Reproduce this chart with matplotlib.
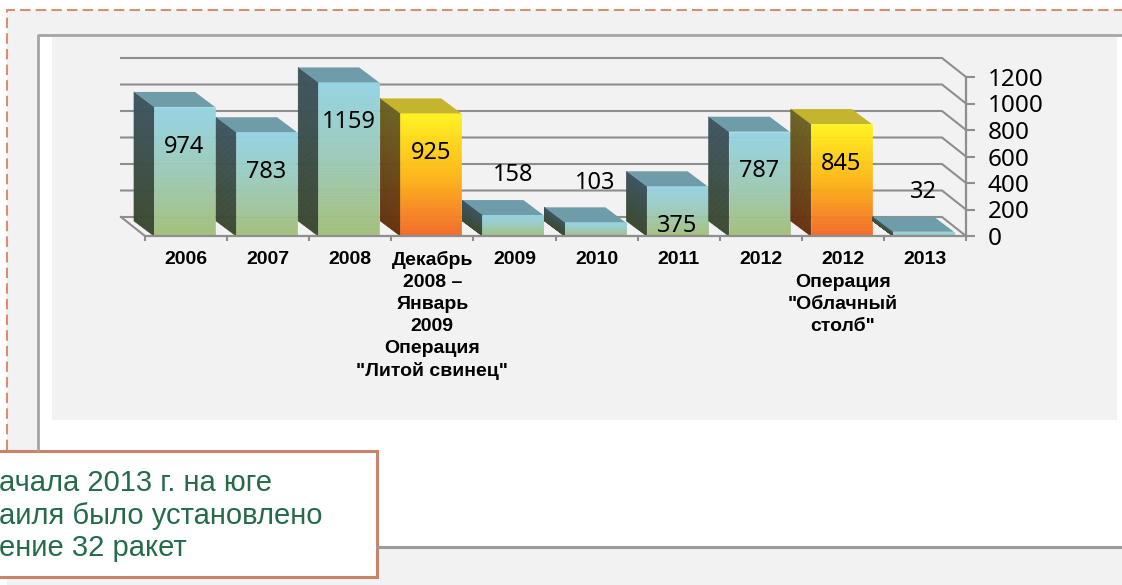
import matplotlib
matplotlib.use("Agg")
import matplotlib.pyplot as plt
from matplotlib.patches import Rectangle, Polygon
from matplotlib.collections import PolyCollection
from matplotlib.colors import to_rgb
import numpy as np

# data
categories = ["2006", "2007", "2008",
              "Декабрь\n2008 –\nЯнварь\n2009\nОперация\n\"Литой свинец\"",
              "2009", "2010", "2011", "2012",
              "2012\nОперация\n\"Облачный\nстолб\"", "2013"]
rockets = [974, 783, 1159, 925, 158, 103, 375, 787, 845, 32]
operation = [False, False, False, True, False, False, False, False, True, False]
y_ticks = [0, 200, 400, 600, 800, 1000, 1200]
note_lines = ["ачала 2013 г. на юге", "аиля было установлено", "ение 32 ракет"]

W, H = 1122, 585
fig = plt.figure(figsize=(W / 100, H / 100), dpi=100)
fig.patch.set_facecolor("white")

# slide background, in pixels
bg = fig.add_axes([0, 0, 1, 1])
bg.set_xlim(0, W)
bg.set_ylim(H, 0)
bg.axis("off")
bg.add_patch(Rectangle((7, 10), W, H, fc="#F2F2F2", ec="none"))
bg.add_patch(Rectangle((39, 36), W, 511, fc="white", ec="none"))
bg.add_patch(Rectangle((52, 37), 1065, 383, fc="#F2F2F2", ec="none"))
bg.plot([7, 7, W], [450, 10, 10], color="#D4906F", lw=1.5, ls=(0, (5, 2.5)))
bg.plot([38, 38, W], [450, 35, 35], color="#A5A5A5", lw=2)
bg.plot([377, W], [547, 547], color="#9B9B9B", lw=2.2)
bg.add_patch(Rectangle((-5, 451), 382, 126, fc="white", ec="#C8836A", lw=2.2))
for k, line in enumerate(note_lines):
    bg.text(-1, 491 + 32.5 * k, line, fontsize=21, family="Liberation Sans",
            color="#256B4A", va="baseline", ha="left")

# chart: axes is the front plane of the 3D box
left_px, right_px, base_px = 145, 966, 236
unit_px = 0.1325
top_px = base_px - 1200 * unit_px
ax = fig.add_axes([left_px / W, (H - base_px) / H,
                   (right_px - left_px) / W, (base_px - top_px) / H])
ax.set_xlim(0, len(categories))
ax.set_ylim(0, 1200)
ax.patch.set_visible(False)

cat_px = (right_px - left_px) / len(categories)
wall_dx, wall_dy = -24 / cat_px, 19 / unit_px
bar_dx, bar_dy = -20 / cat_px, 15 / unit_px
bar_off, bar_w = 9 / cat_px, 61 / cat_px
grid_c = "#8E8E8E"

# back wall grid and floor
for v in y_ticks:
    ax.plot([wall_dx, len(categories) + wall_dx, len(categories)],
            [v + wall_dy, v + wall_dy, v], color=grid_c, lw=1.5,
            clip_on=False, zorder=1)
ax.plot([wall_dx, 0], [wall_dy, 0], color=grid_c, lw=1.5, clip_on=False, zorder=1)

schemes = {
    False: dict(front=["#95D4E4", "#9DCAB8", "#A3C078"],
                side=["#3D5560", "#3C4A30"], top="#6F9CA9"),
    True: dict(front=["#FFF21E", "#FDB718", "#F2672A"],
               side=["#6A6222", "#66300F"], top="#C5B52E"),
}


def grad(stops, t):
    # t = 1 at the top of the bar, 0 at the bottom
    cols = [np.array(to_rgb(c)) for c in stops]
    pos = np.linspace(1, 0, len(cols))
    return [np.interp(t, pos[::-1], [c[j] for c in cols][::-1]) for j in range(3)]


n = 60
for i, (v, op) in enumerate(zip(rockets, operation)):
    s = schemes[op]
    xl = i + bar_off
    ts = np.linspace(0, 1, n + 1)
    front, side, fc, sc = [], [], [], []
    for a, b in zip(ts[:-1], ts[1:]):
        y0, y1 = a * v, b * v
        front.append([(xl, y0), (xl + bar_w, y0), (xl + bar_w, y1), (xl, y1)])
        side.append([(xl, y0), (xl + bar_dx, y0 + bar_dy),
                     (xl + bar_dx, y1 + bar_dy), (xl, y1)])
        tm = (a + b) / 2
        fc.append(grad(s["front"], tm))
        sc.append(grad(s["side"], tm))
    ax.add_collection(PolyCollection(side, facecolors=sc, edgecolors=sc, lw=0.4,
                                     clip_on=False, zorder=2))
    ax.add_collection(PolyCollection(front, facecolors=fc, edgecolors=fc, lw=0.4,
                                     clip_on=False, zorder=2))
    ax.add_patch(Polygon([(xl, v), (xl + bar_w, v), (xl + bar_w + bar_dx, v + bar_dy),
                          (xl + bar_dx, v + bar_dy)], closed=True, fc=s["top"],
                         ec="none", clip_on=False, zorder=2))
    ly = v - 300 if v > 300 else v + 300
    ax.text(xl + bar_w / 2, ly, str(v), ha="center", va="center", fontsize=17,
            family="Noto Sans", color="black", zorder=5, clip_on=False)

# axes: front line with category labels, value axis on the right
for side_name in ["left", "top"]:
    ax.spines[side_name].set_visible(False)
for side_name in ["right", "bottom"]:
    ax.spines[side_name].set_color(grid_c)
    ax.spines[side_name].set_linewidth(1.6)
ax.yaxis.tick_right()
ax.set_yticks(y_ticks)
ax.tick_params(axis="y", direction="out", length=6.5, width=1.5, color=grid_c,
               pad=9, labelsize=17.5, labelfontfamily="Noto Sans")

# first line of each category as the tick label, the rest stacked below it
label_pad = 11
line_step = 15.8  # points between lines
ax.set_xticks(np.arange(len(categories)) + 0.5,
              [c.split("\n")[0] for c in categories])
ax.set_xticks(np.arange(len(categories) + 1), minor=True)
ax.tick_params(axis="x", which="major", length=0, pad=label_pad, labelsize=14,
               labelfontfamily="Liberation Sans")
ax.tick_params(axis="x", which="minor", direction="out", length=3.6, width=1.5,
               color=grid_c)
for lbl in ax.get_xticklabels():
    lbl.set_fontweight("bold")
for i, c in enumerate(categories):
    for k, line in enumerate(c.split("\n")[1:], start=1):
        ax.annotate(line, xy=(i + 0.5, 0), xycoords="data",
                    xytext=(0, -(label_pad + 0.8 + k * line_step)),
                    textcoords="offset points", ha="center", va="top",
                    fontsize=14, fontweight="bold", family="Liberation Sans",
                    annotation_clip=False)

fig.savefig("out.png", dpi=100)
